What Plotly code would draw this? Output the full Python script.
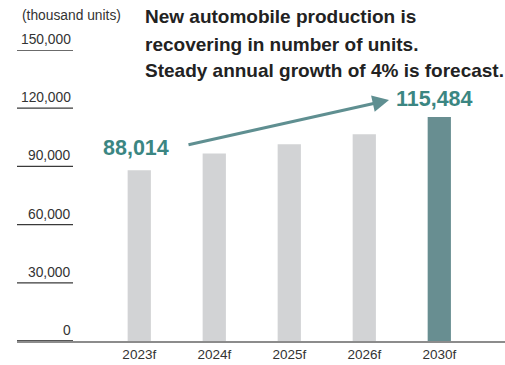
import plotly.graph_objects as go

# Production forecast, thousand units
years = ["2023f", "2024f", "2025f", "2026f", "2030f"]
units = [88014, 96700, 101400, 106600, 115484]
bar_colors = ["#d2d3d5", "#d2d3d5", "#d2d3d5", "#d2d3d5", "#688e91"]

y_ticks = [0, 30000, 60000, 90000, 120000, 150000]
y_tick_labels = ["0", "30,000", "60,000", "90,000", "120,000", "150,000"]

title_lines = [
    "New automobile production is",
    "recovering in number of units.",
    "Steady annual growth of 4% is forecast.",
]
unit_label = "(thousand units)"

FONT = "Liberation Sans, Arial, Helvetica, sans-serif"
TEAL = "#3b8682"
ARROW = "#5f8f91"

W, H = 505, 365
ML, MR, MT, MB = 17, 0, 50, 24
plot_w = W - ML - MR
plot_h = H - MT - MB


def px_x(p):
    return (p - ML) / plot_w


def px_y(p):
    return (H - MB - p) / plot_h


fig = go.Figure(
    go.Bar(
        x=list(range(len(years))),
        y=units,
        marker=dict(color=bar_colors, line=dict(width=0)),
        width=0.31,
        hoverinfo="skip",
    )
)

# short rules under each y label, label sitting on top of its rule
rule_end = px_x(73)
shapes = []
annotations = []
for v, lab in zip(y_ticks, y_tick_labels):
    shapes.append(dict(
        type="line", xref="paper", yref="y", x0=0, x1=rule_end, y0=v, y1=v,
        line=dict(color="#3a3a3a" if v else "#555555", width=1.3 if v else 2),
        layer="above",
    ))
    annotations.append(dict(
        xref="paper", yref="y", x=rule_end, y=v, text=lab, showarrow=False,
        xanchor="right", yanchor="bottom", yshift=1,
        font=dict(family=FONT, size=13.8, color="#333333"),
    ))

annotations.append(dict(
    xref="paper", yref="paper", x=px_x(20), y=px_y(16), text=unit_label,
    showarrow=False, xanchor="left", yanchor="middle",
    font=dict(family=FONT, size=13.8, color="#333333"),
))

for i, line in enumerate(title_lines):
    annotations.append(dict(
        xref="paper", yref="paper", x=px_x(143), y=px_y(17 + 27 * i),
        text="<b>" + line + "</b>", showarrow=False,
        xanchor="left", yanchor="middle",
        font=dict(family=FONT, size=19, color="#222222"),
    ))

# first and last values called out above their bars
annotations.append(dict(
    x=0, y=units[0], xref="x", yref="y", text=f"<b>{units[0]:,}</b>",
    showarrow=False, xanchor="center", yanchor="middle", xshift=-3, yshift=22,
    font=dict(family=FONT, size=21.5, color=TEAL),
))
annotations.append(dict(
    x=4, y=units[-1], xref="x", yref="y", text=f"<b>{units[-1]:,}</b>",
    showarrow=False, xanchor="center", yanchor="middle", xshift=-5, yshift=18,
    font=dict(family=FONT, size=21.5, color=TEAL),
))

# growth arrow
annotations.append(dict(
    xref="paper", yref="paper", x=px_x(389), y=px_y(100),
    ax=187 - 389, ay=145 - 100, axref="pixel", ayref="pixel",
    text="", showarrow=True, arrowhead=2, arrowsize=1.1, arrowwidth=3,
    arrowcolor=ARROW, standoff=0,
))

fig.update_layout(
    width=W, height=H,
    margin=dict(l=ML, r=MR, t=MT, b=MB, pad=0),
    paper_bgcolor="white", plot_bgcolor="white",
    showlegend=False,
    shapes=shapes, annotations=annotations,
    font=dict(family=FONT, color="#333333"),
    xaxis=dict(
        range=[-1.63, 4.876], tickmode="array",
        tickvals=list(range(len(years))), ticktext=years,
        showgrid=False, zeroline=False, showline=True,
        linecolor="#8c8c8c", linewidth=2, ticks="",
        tickfont=dict(family=FONT, size=13.5, color="#333333"),
        fixedrange=True,
    ),
    yaxis=dict(
        range=[0, 150000], showgrid=False, zeroline=False,
        showticklabels=False, showline=False, fixedrange=True,
    ),
)

fig.write_html("out.html", config={"displayModeBar": False})
